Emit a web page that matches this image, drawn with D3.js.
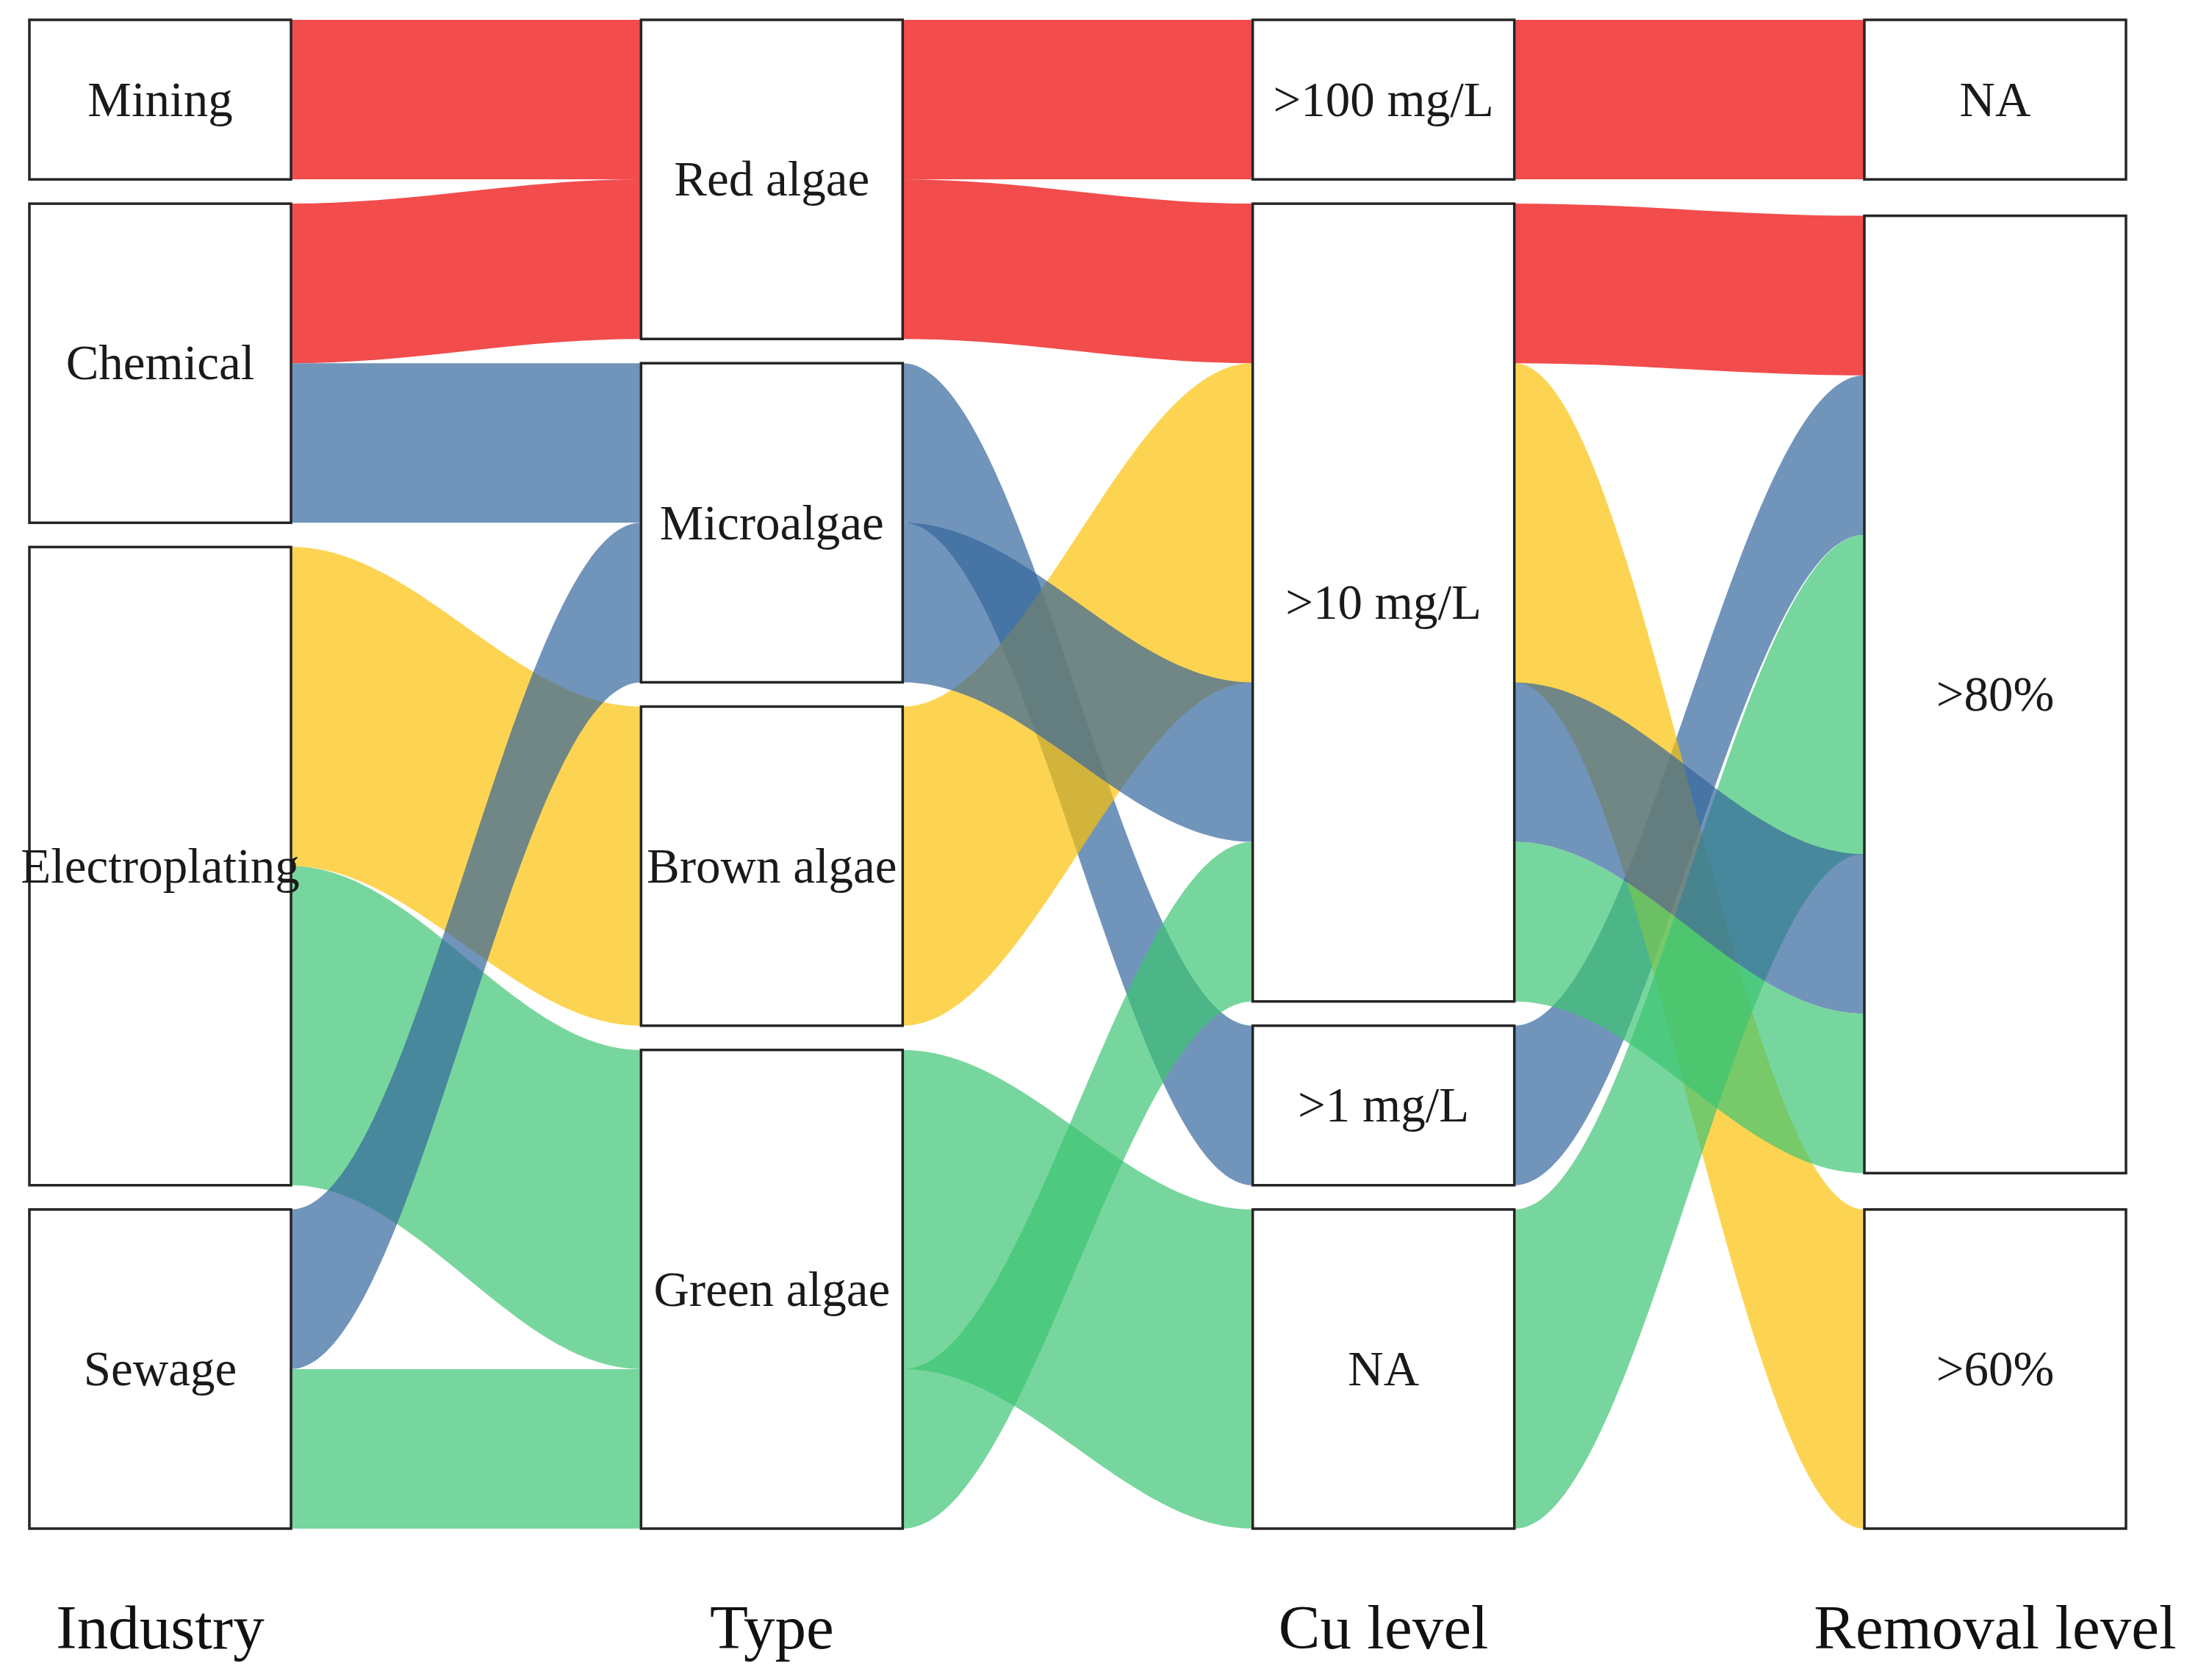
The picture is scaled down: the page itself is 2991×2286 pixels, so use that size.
<!DOCTYPE html>
<html>
<head>
<meta charset="utf-8">
<script src="https://cdn.jsdelivr.net/npm/d3@7"></script>
<style>
  html, body { margin: 0; padding: 0; background: #ffffff; }
  svg { display: block; }
</style>
</head>
<body>
<svg id="chart" width="2991" height="2286"></svg>
<script>
// ---------- DATA ----------
const axisTitles    = ["Industry", "Type", "Cu level", "Removal level"];
const industries    = ["Mining", "Chemical", "Electroplating", "Sewage"];
const types         = ["Red algae", "Microalgae", "Brown algae", "Green algae"];
const cuLevels      = [">100 mg/L", ">10 mg/L", ">1 mg/L", "NA"];
const removalLevels = ["NA", ">80%", ">60%"];

// one entry per alluvium (path through the four axes) and its count
const flowIndustry = ["Mining", "Chemical", "Chemical", "Electroplating", "Electroplating", "Sewage", "Sewage"];
const flowType     = ["Red algae", "Red algae", "Microalgae", "Brown algae", "Green algae", "Microalgae", "Green algae"];
const flowCu       = [">100 mg/L", ">10 mg/L", ">1 mg/L", ">10 mg/L", "NA", ">10 mg/L", ">10 mg/L"];
const flowRemoval  = ["NA", ">80%", ">80%", ">60%", ">80%", ">80%", ">80%"];
const flowCount    = [1, 1, 1, 2, 2, 1, 1];

const typeColors = ["#ec0002", "#34679d", "#fcc208", "#3dc474"];

// ---------- LAYOUT ----------
(function () {
const svg = d3.select("#chart");
const axes = [industries, types, cuLevels, removalLevels];
const yTop = 27, yBottom = 2080;
const totalGap = 99;
const boxW = 356;
const curveK = 0.36;

const x = d3.scalePoint().domain(axisTitles).range([218, 2715]);
const color = d3.scaleOrdinal().domain(types).range(typeColors);

const alluvia = flowIndustry.map((d, i) => ({
  keys: [flowIndustry[i], flowType[i], flowCu[i], flowRemoval[i]],
  n: flowCount[i],
  type: flowType[i]
}));
// lexicographic order of alluvia by strata order on each axis
alluvia.sort((a, b) => {
  for (let k = 0; k < axes.length; k++) {
    const d = axes[k].indexOf(a.keys[k]) - axes[k].indexOf(b.keys[k]);
    if (d !== 0) return d;
  }
  return 0;
});

const total = d3.sum(alluvia, d => d.n);
const yUnit = d3.scaleLinear().domain([0, total]).range([0, (yBottom - yTop) - totalGap]);

// strata boxes
const strata = [];
axes.forEach((levels, ai) => {
  const gap = totalGap / (levels.length - 1);
  let cum = 0;
  levels.forEach((lev, si) => {
    const cnt = d3.sum(alluvia.filter(a => a.keys[ai] === lev), a => a.n);
    const y0 = yTop + yUnit(cum) + si * gap;
    const y1 = y0 + yUnit(cnt);
    strata.push({ axis: ai, label: lev, y0, y1 });
    cum += cnt;
  });
});

// lodes
alluvia.forEach(a => { a.lodes = []; });
axes.forEach((levels, ai) => {
  levels.forEach(lev => {
    const s = strata.find(t => t.axis === ai && t.label === lev);
    let off = s.y0;
    alluvia.filter(a => a.keys[ai] === lev).forEach(a => {
      const h = yUnit(a.n);
      a.lodes[ai] = [off, off + h];
      off += h;
    });
  });
});

// ---------- FLOWS ----------
function alluviumPath(a) {
  const p = d3.path();
  const n = axes.length;
  const xl = i => x(axisTitles[i]) - boxW / 2;
  const xr = i => x(axisTitles[i]) + boxW / 2;
  p.moveTo(xl(0), a.lodes[0][0]);
  for (let i = 0; i < n; i++) {
    p.lineTo(xr(i), a.lodes[i][0]);
    if (i < n - 1) {
      const x0 = xr(i), x1 = xl(i + 1), dx = x1 - x0;
      p.bezierCurveTo(x0 + curveK * dx, a.lodes[i][0], x1 - curveK * dx, a.lodes[i + 1][0], x1, a.lodes[i + 1][0]);
    }
  }
  p.lineTo(xr(n - 1), a.lodes[n - 1][1]);
  for (let i = n - 1; i >= 0; i--) {
    p.lineTo(xl(i), a.lodes[i][1]);
    if (i > 0) {
      const x0 = xl(i), x1 = xr(i - 1), dx = x0 - x1;
      p.bezierCurveTo(x0 - curveK * dx, a.lodes[i][1], x1 + curveK * dx, a.lodes[i - 1][1], x1, a.lodes[i - 1][1]);
    }
  }
  p.closePath();
  return p.toString();
}

svg.append("g").selectAll("path")
  .data(alluvia)
  .join("path")
  .attr("d", alluviumPath)
  .attr("fill", d => color(d.type))
  .attr("fill-opacity", 0.7)
  .attr("stroke", "none");

// ---------- STRATA ----------
const sg = svg.append("g").selectAll("g")
  .data(strata)
  .join("g");

sg.append("rect")
  .attr("x", d => x(axisTitles[d.axis]) - boxW / 2)
  .attr("y", d => d.y0)
  .attr("width", boxW)
  .attr("height", d => d.y1 - d.y0)
  .attr("fill", "#ffffff")
  .attr("stroke", "#252525")
  .attr("stroke-width", 3.5);

const labelSize = 67;
sg.append("text")
  .attr("x", d => x(axisTitles[d.axis]))
  .attr("y", d => (d.y0 + d.y1) / 2 + labelSize * 0.331)
  .attr("text-anchor", "middle")
  .attr("font-family", "'Liberation Serif', serif")
  .attr("font-size", labelSize)
  .attr("fill", "#1a1a1a")
  .text(d => d.label);

// ---------- AXIS TITLES ----------
svg.append("g").selectAll("text")
  .data(axisTitles)
  .join("text")
  .attr("x", d => x(d))
  .attr("y", 2243)
  .attr("text-anchor", "middle")
  .attr("font-family", "'Liberation Serif', serif")
  .attr("font-size", 85)
  .attr("fill", "#111111")
  .text(d => d);
})();
</script>
</body>
</html>
